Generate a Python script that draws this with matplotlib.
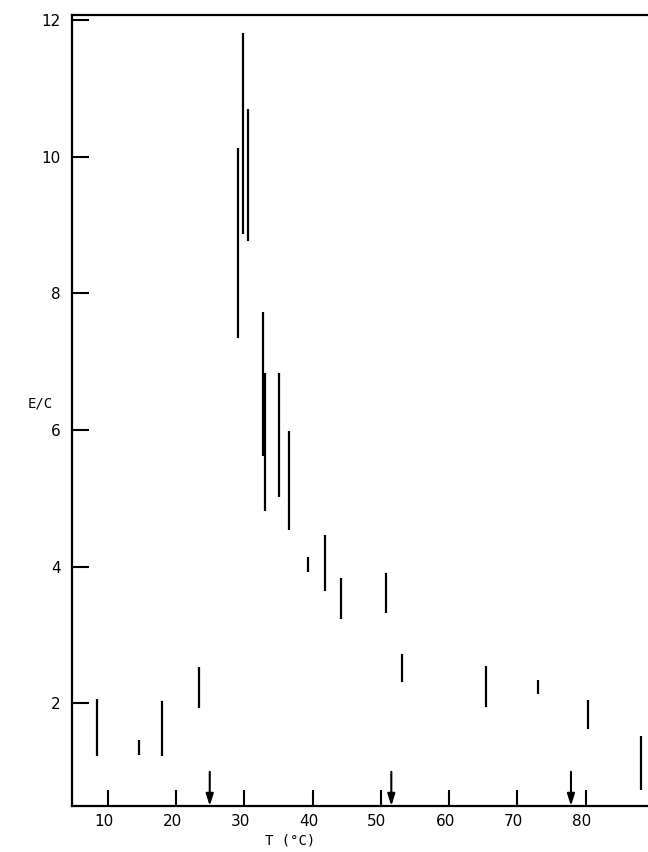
import matplotlib.pyplot as plt
import matplotlib.transforms as mtransforms

# vertical bars: temperature and E/C range
temps = [8.39, 14.58, 17.91, 23.33, 29.08, 29.74, 30.55, 32.67, 32.96, 35.13,
         36.59, 39.29, 41.78, 44.21, 50.80, 53.14, 65.35, 73.0, 80.38, 88.05]
e_high = [2.06, 1.46, 2.04, 2.54, 10.12, 11.81, 10.70, 7.72, 6.83, 6.84,
          5.99, 4.14, 4.47, 3.84, 3.91, 2.73, 2.55, 2.35, 2.05, 1.53]
e_low = [1.23, 1.24, 1.23, 1.94, 7.34, 8.86, 8.76, 5.62, 4.82, 5.02,
         4.54, 3.92, 3.65, 3.24, 3.32, 2.32, 1.95, 2.14, 1.63, 0.73]

# arrows marking transitions
arrow_temps = [24.94, 51.53, 77.84]
arrow_top = 1.0

x_ticks = [10, 20, 30, 40, 50, 60, 70, 80]
y_ticks = [2, 4, 6, 8, 10, 12]

fig = plt.figure(figsize=(6.48, 8.52), dpi=100)
ax = fig.add_axes([72 / 648, 1 - 806 / 852, 1 - 72 / 648, (806 - 15) / 852])

ax.vlines(temps, e_low, e_high, colors='black', linewidth=1.6)

ax.set_xlim(4.77, 89.12)
ax.set_ylim(0.5, 12.07)

for t in arrow_temps:
    ax.annotate('', xy=(t, 0.5), xytext=(t, arrow_top),
                arrowprops=dict(arrowstyle='-|>,head_length=0.7,head_width=0.22',
                                lw=1.5, color='black', shrinkA=0, shrinkB=0))

ax.set_xticks(x_ticks)
ax.set_yticks(y_ticks)
ax.tick_params(axis='x', direction='in', length=11.5, width=1.5, pad=6, labelsize=11)
ax.tick_params(axis='y', direction='in', length=12, width=1.5, pad=8, labelsize=11)

offset = mtransforms.ScaledTranslation(-0.04, 0, fig.dpi_scale_trans)
for lab in ax.get_xticklabels():
    lab.set_transform(lab.get_transform() + offset)

ax.spines['right'].set_visible(False)
for s in ['left', 'bottom', 'top']:
    ax.spines[s].set_linewidth(1.6)

fig.text(40 / 648, 1 - 404 / 852, 'E/C', ha='center', va='center', fontsize=10,
         family='DejaVu Sans Mono')
fig.text(290 / 648, 1 - 840 / 852, 'T (\u00b0C)', ha='center', va='center', fontsize=10,
         family='DejaVu Sans Mono')

fig.savefig('out.png', dpi=100)
